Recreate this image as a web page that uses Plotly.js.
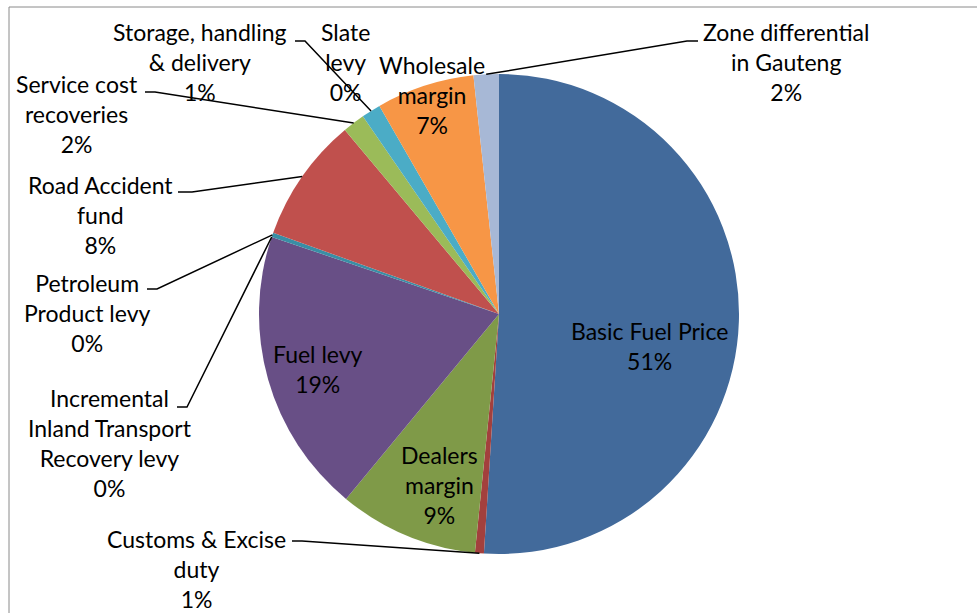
<!DOCTYPE html>
<html>
<head>
<meta charset="utf-8">
<script src="https://cdn.plot.ly/plotly-3.0.1.min.js"></script>
<style>html,body{margin:0;padding:0;background:#fff;}#chart{width:977px;height:613px;}</style>
</head>
<body>
<div id="chart"></div>
<script>
// ---- data ----
const labels = [
  "Basic Fuel Price",
  "Customs & Excise duty",
  "Dealers margin",
  "Fuel levy",
  "Incremental Inland Transport Recovery levy",
  "Petroleum Product levy",
  "Road Accident fund",
  "Service cost recoveries",
  "Storage, handling & delivery",
  "Slate levy",
  "Wholesale margin",
  "Zone differential in Gauteng"
];
const values = [51.0, 0.6, 9.4, 19.2, 0.0, 0.3, 8.4, 1.5, 1.3, 0.0, 6.6, 1.7];

// ---- style / layout ----
const colors = ["#426a9b", "#a3403d", "#7f9a48", "#684f86", "#3a8ea5", "#3a8ea5",
                "#c0504d", "#9bbb59", "#4bacc6", "#8064a2", "#f79646", "#a7b8d6"];
// wrapped display lines (layout only)
const wrapped = [
  ["Basic Fuel Price"],
  ["Customs & Excise", "duty"],
  ["Dealers", "margin"],
  ["Fuel levy"],
  ["Incremental", "Inland Transport", "Recovery levy"],
  ["Petroleum", "Product levy"],
  ["Road Accident", "fund"],
  ["Service cost", "recoveries"],
  ["Storage, handling", "& delivery"],
  ["Slate", "levy"],
  ["Wholesale", "margin"],
  ["Zone differential", "in Gauteng"]
];
// label placement in pixels: centre x, top y, optional leader start [x,y] (tick end)
const placement = [
  {x: 649, y: 315},
  {x: 196, y: 523, lead: [[292, 541], [302, 541]]},
  {x: 439, y: 439},
  {x: 318, y: 338},
  {x: 110, y: 382, lead: [[177, 407], [187, 407]]},
  {x: 87,  y: 267, lead: [[147, 289], [157, 289]]},
  {x: 100, y: 169, lead: [[178, 192], [192, 192]]},
  {x: 77,  y: 68,  lead: [[145, 92], [155, 92]]},
  {x: 200, y: 16,  lead: [[295, 41], [305, 41]]},
  {x: 345, y: 16},
  {x: 432, y: 49},
  {x: 786, y: 16,  lead: [[698, 41], [687, 41]]}
];
const W = 977, H = 613;
const CX = 499, CY = 314, R = 240;
const FONT = "Lato, 'Liberation Sans', sans-serif";
const FS = 23;

const total = values.reduce((a, b) => a + b, 0);
const px = x => x / W;
const py = y => 1 - y / H;

const annotations = [];
const shapes = [];
let cum = 0;
values.forEach((v, i) => {
  const mid = (cum + v / 2) / total * 2 * Math.PI;
  cum += v;
  const pct = Math.round(v / total * 100) + "%";
  const p = placement[i];
  annotations.push({
    xref: "paper", yref: "paper", x: px(p.x), y: py(p.y),
    xanchor: "center", yanchor: "top", showarrow: false,
    text: wrapped[i].concat([pct]).join("<br>"),
    font: {family: FONT, size: FS, color: "#000"},
    align: "center"
  });
  if (p.lead) {
    const ex = CX + R * Math.sin(mid), ey = CY - R * Math.cos(mid);
    const d = "M" + px(p.lead[0][0]) + "," + py(p.lead[0][1]) +
              " L" + px(p.lead[1][0]) + "," + py(p.lead[1][1]) +
              " L" + px(ex) + "," + py(ey);
    shapes.push({type: "path", xref: "paper", yref: "paper", path: d,
                 line: {color: "#000", width: 1.5}});
  }
});
// chart frame
shapes.push({type: "rect", xref: "paper", yref: "paper",
  x0: px(9), x1: 1.2, y0: -0.2, y1: py(7),
  line: {color: "#8a8a8a", width: 1}, fillcolor: "rgba(0,0,0,0)"});

const trace = {
  type: "pie",
  labels: labels,
  values: values,
  sort: false,
  direction: "clockwise",
  rotation: 0,
  textinfo: "none",
  hoverinfo: "label+percent",
  marker: {colors: colors, line: {width: 0}},
  domain: {x: [px(CX - R), px(CX + R)], y: [py(CY + R), py(CY - R)]},
  showlegend: false
};

Plotly.newPlot("chart", [trace], {
  width: W, height: H,
  margin: {l: 0, r: 0, t: 0, b: 0},
  paper_bgcolor: "#fff",
  showlegend: false,
  annotations: annotations,
  shapes: shapes
}, {displayModeBar: false, staticPlot: true});
</script>
</body>
</html>
